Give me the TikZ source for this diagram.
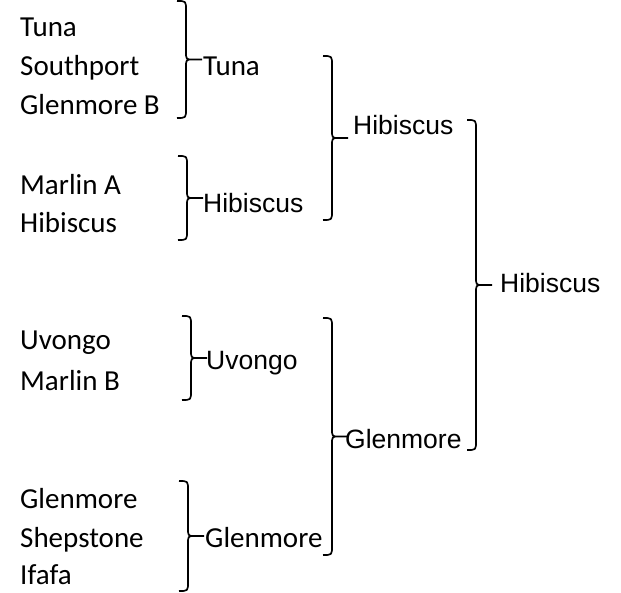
\documentclass[tikz,border=0pt]{standalone}
\usepackage{fontspec}
\newfontfamily\calib{Carlito}
\newfontfamily\arial{Liberation Sans}
\usetikzlibrary{calc}

\begin{document}
\begin{tikzpicture}[x=1pt, y=-1pt,
  lst/.style={anchor=base west, inner sep=0pt, font=\calib\fontsize{29}{31}\selectfont},
  labc/.style={anchor=base west, inner sep=0pt, font=\calib\fontsize{29}{31}\selectfont},
  laba/.style={anchor=base west, inner sep=0pt, font=\arial\fontsize{26.5}{28}\selectfont},
  brc/.style={line width=1.7pt, line join=round,
    to path={let \p1=(\tikztostart), \p2=(\tikztotarget),
      \p3=($(\tikztostart)!0.5!(\tikztotarget)$) in
      (\p1) .. controls (\x1+9pt,\y1) .. (\x1+9pt,\y1-9pt)
      -- (\x1+9pt,\y3+8pt) .. controls (\x1+9pt,\y3) .. (\x1+16pt,\y3) -- (\x1+25pt,\y3)
      (\x1+16pt,\y3) .. controls (\x1+9pt,\y3) .. (\x1+9pt,\y3-8pt)
      -- (\x1+9pt,\y2+9pt) .. controls (\x1+9pt,\y2) .. (\p2)}},
]
\useasboundingbox (0,0) rectangle (621,593);

% first round
\node[lst] (tuna) at (20,37) {Tuna};
\node[lst] (southport) at (20,76) {Southport};
\node[lst] (glenB) at (20,115) {Glenmore B};
\node[lst] (marlinA) at (20,195) {Marlin A};
\node[lst] (hibis) at (20,233) {Hibiscus};
\node[lst] (uvongo) at (20,350) {Uvongo};
\node[lst] (marlinB) at (20,390) {Marlin B};
\node[lst] (glen) at (20,508) {Glenmore};
\node[lst] (shep) at (20,547) {Shepstone};
\node[lst] (ifafa) at (20,584) {Ifafa};

\coordinate (b1t) at (177,1);   \coordinate (b1b) at (177,118);
\coordinate (b2t) at (178,156); \coordinate (b2b) at (178,240);
\coordinate (b3t) at (182,316); \coordinate (b3b) at (182,400);
\coordinate (b4t) at (179,481); \coordinate (b4b) at (179,591);
\draw[brc] (b1t) to (b1b);
\draw[brc] (b2t) to (b2b);
\draw[brc] (b3t) to (b3b);
\draw[brc] (b4t) to (b4b);

% second round
\node[labc] (w1) at (203,76) {Tuna};
\node[laba] (w2) at (203,213) {Hibiscus};
\node[laba] (w3) at (206,370) {Uvongo};
\node[labc] (w4) at (205,547) {Glenmore};

\coordinate (b5t) at (323,56);  \coordinate (b5b) at (323,220);
\coordinate (b6t) at (323,318); \coordinate (b6b) at (323,555);
\draw[brc] (b5t) to (b5b);
\draw[brc] (b6t) to (b6b);

% final
\node[laba] (w5) at (353,135) {Hibiscus};
\node[laba] (w6) at (345,448) {Glenmore};

\coordinate (b7t) at (467,120); \coordinate (b7b) at (467,450);
\draw[brc] (b7t) to (b7b);

\node[laba] (w7) at (500,293) {Hibiscus};
\end{tikzpicture}
\end{document}
